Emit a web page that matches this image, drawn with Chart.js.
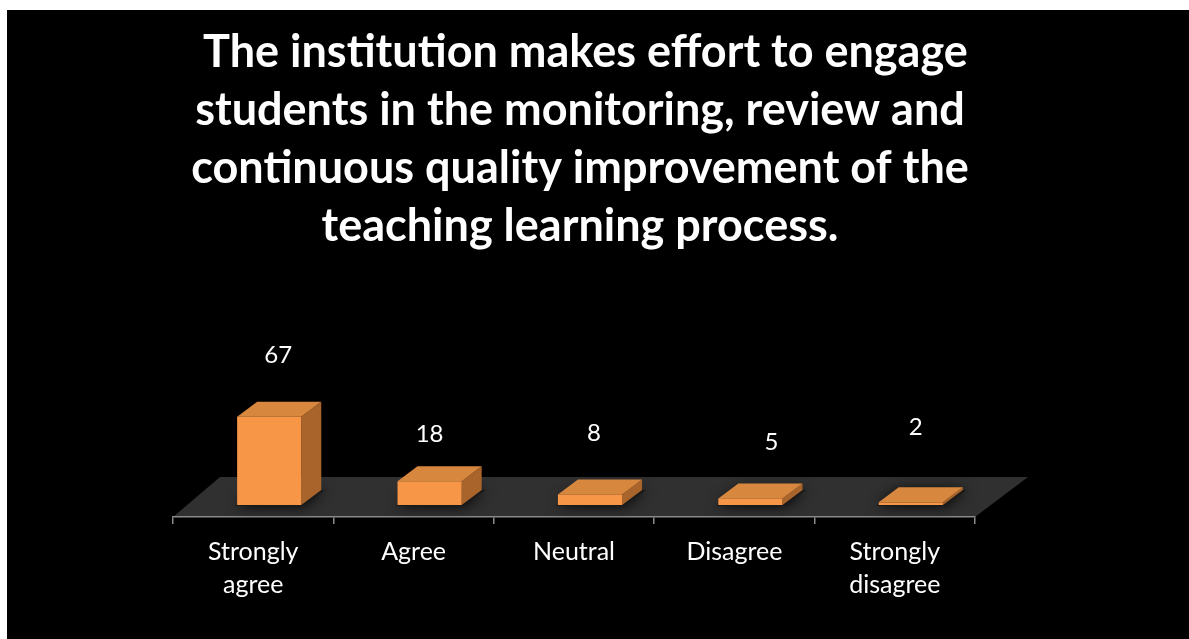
<!DOCTYPE html>
<html>
<head>
<meta charset="utf-8">
<script src="https://cdn.jsdelivr.net/npm/chart.js@4.4.0/dist/chart.umd.min.js"></script>
<style>
  html, body { margin: 0; padding: 0; background: #fff; }
  #wrap { position: absolute; left: 7px; top: 10px; width: 1182px; height: 629px; background: #000; }
</style>
</head>
<body>
<div id="wrap"><canvas id="surveyChart" width="1182" height="629"></canvas></div>
<script>
// chart data
const categories = [['Strongly', 'agree'], 'Agree', 'Neutral', 'Disagree', ['Strongly', 'disagree']];
const responses = [67, 18, 8, 5, 2];
const titleLines = [
    ' The institution makes effort to engage',
    'students in the monitoring, review and',
    'continuous quality improvement of the',
    'teaching learning process.'
];

// look of the fake 3d
const barShift = {dx: 16, dy: -12};
const barDepth = {dx: 20, dy: -15};
const floorDepth = {left: 47, right: 53, dy: -40};
const labelNudge = [[9, -61], [0, -47], [4, -61], [21, -56], [5, -75]];
const FONT = 'Lato, "Open Sans", sans-serif';

const floorPlugin = {
    id: 'floor',
    beforeDraw(chart) {
        const {ctx, chartArea: a} = chart;
        ctx.save();
        ctx.fillStyle = '#303030';
        ctx.beginPath();
        ctx.moveTo(a.left, a.bottom);
        ctx.lineTo(a.right, a.bottom);
        ctx.lineTo(a.right + floorDepth.right, a.bottom + floorDepth.dy);
        ctx.lineTo(a.left + floorDepth.left, a.bottom + floorDepth.dy);
        ctx.closePath();
        ctx.fill();
        ctx.restore();
    }
};

const bars3d = {
    id: 'bars3d',
    afterDatasetsDraw(chart) {
        const ctx = chart.ctx;
        const meta = chart.getDatasetMeta(0);
        meta.data.forEach((el, i) => {
            const x0 = el.x - el.width / 2 + barShift.dx;
            const x1 = el.x + el.width / 2 + barShift.dx;
            const top = el.y + barShift.dy;
            const bot = el.base + barShift.dy;
            const dx = barDepth.dx, dy = barDepth.dy;

            ctx.save();
            // soft shadow on the floor
            ctx.shadowColor = 'rgba(0,0,0,0.9)';
            ctx.shadowBlur = 14;
            ctx.fillStyle = '#1a1a1a';
            ctx.beginPath();
            ctx.moveTo(x0 - 2, bot + 1);
            ctx.lineTo(x1 + 2, bot + 1);
            ctx.lineTo(x1 + dx + 4, bot + dy);
            ctx.lineTo(x0 + dx, bot + dy);
            ctx.closePath();
            ctx.fill();
            ctx.restore();

            ctx.save();
            // side
            ctx.fillStyle = '#A8642B';
            ctx.beginPath();
            ctx.moveTo(x1, bot);
            ctx.lineTo(x1, top);
            ctx.lineTo(x1 + dx, top + dy);
            ctx.lineTo(x1 + dx, bot + dy);
            ctx.closePath();
            ctx.fill();
            // top
            ctx.fillStyle = '#D8873F';
            ctx.beginPath();
            ctx.moveTo(x0, top);
            ctx.lineTo(x1, top);
            ctx.lineTo(x1 + dx, top + dy);
            ctx.lineTo(x0 + dx, top + dy);
            ctx.closePath();
            ctx.fill();
            // front
            ctx.fillStyle = '#F79646';
            ctx.fillRect(x0, top, x1 - x0, bot - top);
            ctx.restore();

            // value label
            ctx.save();
            ctx.fillStyle = '#ffffff';
            ctx.font = '24px ' + FONT;
            ctx.textAlign = 'center';
            ctx.textBaseline = 'middle';
            const n = labelNudge[i];
            ctx.fillText(String(responses[i]), (x0 + x1) / 2 + n[0], top + n[1]);
            ctx.restore();
        });
    }
};

const ctx = document.getElementById('surveyChart').getContext('2d');
const surveyChart = new Chart(ctx, {
    type: 'bar',
    data: {
        labels: categories,
        datasets: [{
            data: responses,
            backgroundColor: 'rgba(0,0,0,0)',
            barPercentage: 0.4,
            categoryPercentage: 1
        }]
    },
    options: {
        responsive: false,
        animation: false,
        layout: {padding: {left: 166, right: 202, top: 0, bottom: 22}},
        scales: {
            x: {
                grid: {display: true, drawOnChartArea: false, color: '#8a8a8a', tickLength: 7, lineWidth: 1.5},
                border: {display: true, color: '#8a8a8a', width: 1.5},
                ticks: {color: '#ffffff', font: {family: FONT, size: 25, lineHeight: 1.32}, padding: 11, maxRotation: 0},
                afterFit(scale) { scale.height = 100; }
            },
            // hidden axis on the right, only there to balance the title's centre
            y: {
                position: 'right', min: 0, max: 100,
                grid: {display: false}, border: {display: false}, ticks: {display: false},
                afterFit(scale) { scale.width = 12; }
            }
        },
        plugins: {
            legend: {display: false},
            tooltip: {enabled: false},
            title: {
                display: true,
                text: titleLines,
                color: '#ffffff',
                font: {family: FONT, size: 45, weight: 'bold', lineHeight: 1.29},
                padding: {top: 13, bottom: 130}
            }
        }
    },
    plugins: [floorPlugin, bars3d]
});
</script>
</body>
</html>
